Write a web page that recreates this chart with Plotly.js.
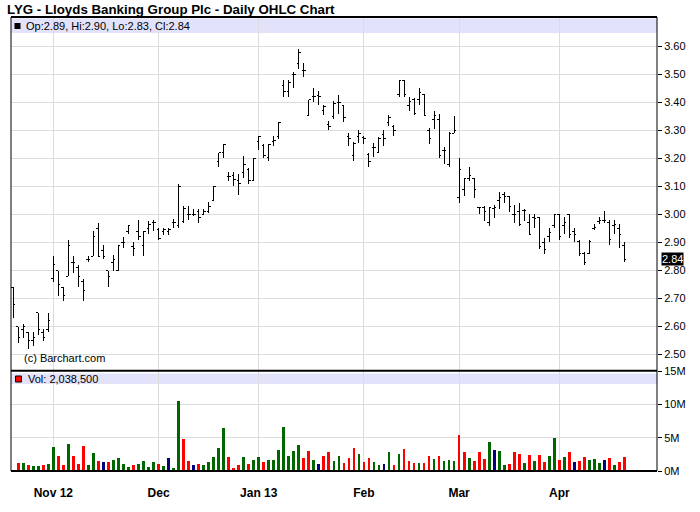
<!DOCTYPE html>
<html><head><meta charset="utf-8">
<script src="https://cdn.plot.ly/plotly-3.0.1.min.js"></script>
<style>html,body{margin:0;padding:0;background:#fff}#chart{width:700px;height:512px}
#chart .ohlc path{shape-rendering:crispEdges !important;}
#chart .bars path{shape-rendering:crispEdges !important;}
</style>
</head><body><div id="chart"></div>
<script>
// ---- data (daily bars, trading-day index order) ----
const opens = [2.74,2.60,2.59,2.58,2.55,2.65,2.58,2.59,2.77,2.80,
 2.74,2.78,2.83,2.81,2.76,2.84,2.85,2.95,2.87,2.80,
 2.83,2.80,2.90,2.94,2.885,2.94,2.89,2.95,2.97,2.945,
 2.94,2.94,2.97,2.96,2.975,3.00,3.00,3.01,3.00,3.01,
 3.05,3.19,3.22,3.135,3.14,3.12,3.15,3.16,3.12,3.26,
 3.245,3.205,3.26,3.28,3.46,3.44,3.50,3.54,3.515,3.355,
 3.42,3.425,3.37,3.32,3.35,3.40,3.39,3.28,3.21,3.28,
 3.275,3.215,3.24,3.22,3.285,3.33,3.315,3.43,3.48,3.39,
 3.41,3.41,3.43,3.30,3.34,3.34,3.23,3.18,3.29,3.06,
 3.09,3.13,3.13,3.025,3.025,2.97,3.02,3.05,3.07,3.065,
 3.00,3.01,3.015,2.97,2.99,2.99,2.90,2.92,2.96,3.00,
 2.96,3.00,2.94,2.905,2.86,2.86,2.95,2.975,2.98,2.97,
 2.96,2.95,2.89];
const highs = [2.74,2.60,2.61,2.58,2.58,2.65,2.59,2.65,2.85,2.80,
 2.74,2.91,2.85,2.82,2.77,2.85,2.94,2.97,2.89,2.80,
 2.855,2.89,2.92,2.96,2.90,2.98,2.94,2.975,2.98,2.95,
 2.95,2.95,2.985,3.11,3.03,3.03,3.02,3.02,3.02,3.045,
 3.10,3.22,3.25,3.15,3.15,3.145,3.21,3.165,3.20,3.28,
 3.25,3.25,3.28,3.33,3.48,3.48,3.51,3.59,3.54,3.41,
 3.45,3.44,3.39,3.335,3.405,3.425,3.39,3.29,3.26,3.30,
 3.28,3.22,3.255,3.275,3.30,3.355,3.32,3.48,3.48,3.42,
 3.415,3.45,3.43,3.31,3.37,3.36,3.24,3.295,3.35,3.20,
 3.13,3.17,3.13,3.027,3.03,3.028,3.035,3.08,3.08,3.065,
 3.035,3.04,3.02,3.00,3.00,2.99,2.915,2.95,3.00,3.00,
 2.99,3.00,2.95,2.91,2.866,2.908,2.965,2.99,3.012,2.98,
 2.98,2.965,2.90];
const lows = [2.63,2.54,2.56,2.52,2.53,2.57,2.55,2.58,2.76,2.71,
 2.69,2.78,2.79,2.74,2.69,2.83,2.85,2.85,2.84,2.74,
 2.80,2.80,2.88,2.93,2.85,2.91,2.85,2.93,2.94,2.91,
 2.925,2.925,2.95,2.95,2.97,2.98,2.995,2.97,3.00,3.005,
 3.05,3.17,3.20,3.12,3.10,3.07,3.13,3.11,3.12,3.23,
 3.20,3.19,3.245,3.27,3.42,3.42,3.45,3.52,3.49,3.35,
 3.40,3.39,3.355,3.30,3.34,3.36,3.33,3.245,3.19,3.255,
 3.25,3.17,3.205,3.22,3.245,3.315,3.28,3.42,3.42,3.37,
 3.355,3.39,3.352,3.25,3.305,3.20,3.18,3.17,3.29,3.04,
 3.065,3.12,3.06,3.00,2.977,2.96,2.988,3.02,3.04,3.01,
 2.97,2.96,2.975,2.925,2.95,2.878,2.858,2.90,2.95,2.91,
 2.93,2.915,2.90,2.85,2.82,2.858,2.944,2.965,2.97,2.89,
 2.93,2.88,2.83];
const closes = [2.68,2.56,2.60,2.55,2.56,2.59,2.56,2.62,2.82,2.75,
 2.71,2.89,2.83,2.78,2.73,2.84,2.92,2.85,2.85,2.78,
 2.84,2.89,2.90,2.96,2.88,2.92,2.94,2.965,2.97,2.915,
 2.945,2.945,2.97,3.10,3.02,3.00,3.00,2.99,3.01,3.03,
 3.10,3.22,3.25,3.135,3.125,3.11,3.18,3.12,3.20,3.28,
 3.21,3.25,3.265,3.33,3.44,3.47,3.50,3.58,3.515,3.41,
 3.42,3.42,3.385,3.315,3.395,3.40,3.345,3.27,3.255,3.29,
 3.27,3.19,3.24,3.27,3.27,3.345,3.30,3.48,3.43,3.405,
 3.36,3.435,3.355,3.27,3.355,3.21,3.23,3.29,3.30,3.16,
 3.13,3.14,3.09,3.025,3.01,3.025,3.025,3.06,3.065,3.03,
 3.00,2.965,3.015,2.93,2.985,2.885,2.875,2.935,3.00,2.92,
 2.97,2.93,2.93,2.86,2.83,2.905,2.955,2.98,2.98,2.91,
 2.965,2.93,2.84];
// volume in millions of shares
const volumes = [0,1.25,1.25,0.95,0.8,0.8,0.95,1.1,3.65,2.3,
 0.95,4.1,2.3,1.1,3.8,0.95,2.7,1.5,1.4,1.4,
 1.65,1.95,1.1,0.65,0.95,1.1,1.55,0.65,1.4,1.1,
 0.8,1.95,0.4,10.55,4.85,1.55,0.95,1.1,0.95,1.4,
 2.15,3.5,6.5,2.15,0.5,0.95,2.15,1.1,1.65,2.15,
 1.4,1.7,1.7,3.2,6.65,2.3,3.05,3.9,2.0,3.05,
 1.7,1.1,2.3,2.85,1.5,2.3,1.25,2.0,3.5,2.5,
 1.4,2.0,1.4,0.95,1.1,2.85,0.95,2.6,3.35,1.5,
 1.25,1.25,1.25,2.3,1.8,2.3,1.5,1.7,1.5,5.4,
 2.85,1.95,1.5,2.85,1.8,4.35,3.15,3.0,0.95,1.1,
 2.85,2.6,1.25,2.45,1.5,2.45,1.4,2.3,5.0,1.7,
 2.15,2.85,1.35,1.5,2.15,1.7,1.8,1.25,1.7,1.95,
 0.95,1.4,2.0385];
const lastVolume = 2038500;
const monthStartIdx = [8,29,49,70,89,109];
const monthLabels = ['Nov 12','Dec','Jan 13','Feb','Mar','Apr'];
const priceTicks = [2.5,2.6,2.7,2.8,2.9,3.0,3.1,3.2,3.3,3.4,3.5,3.6];
const volTicks = [0,5,10,15];
const volTickLabels = ['0M','5M','10M','15M'];

// ---- derived ----
const idx = opens.map((_, i) => i);
const n = closes.length;
const UP='#006600', DOWN='#ff0000', FLAT='#000080';
const volColors = closes.map((c,i)=> i===0 ? DOWN : (c>closes[i-1] ? UP : (c<closes[i-1] ? DOWN : FLAT)));
const FONT = 'Liberation Sans, Arial, Helvetica, sans-serif';

const W=700, H=512, ML=11, MR=43, MT=17, MB=41;
const plotW = W-ML-MR, plotH = H-MT-MB;
const px2x = p => (p-ML)/plotW;
const px2y = p => (H-MB-p)/plotH;

const priceTrace = {
  type:'ohlc', x: idx, open: opens, high: highs, low: lows, close: closes,
  xaxis:'x', yaxis:'y',
  increasing:{line:{color:'#000', width:1}},
  decreasing:{line:{color:'#000', width:1}},
  tickwidth:0.4, hoverinfo:'skip', showlegend:false
};
const volTrace = {
  type:'bar', x: idx, y: volumes, xaxis:'x', yaxis:'y2',
  marker:{color: volColors, line:{width:0}}, width:0.55,
  hoverinfo:'skip', showlegend:false
};

const f2 = v => v.toFixed(2);
const legendText = 'Op:'+f2(opens[n-1])+', Hi:'+f2(highs[n-1])+', Lo:'+f2(lows[n-1])+', Cl:'+f2(closes[n-1]);
const volText = 'Vol: '+lastVolume.toLocaleString('en-US');

const layout = {
  width:W, height:H,
  margin:{l:ML, r:MR, t:MT, b:MB, pad:0},
  paper_bgcolor:'#ffffff', plot_bgcolor:'rgba(0,0,0,0)',
  font:{family:FONT, size:11, color:'#000'},
  showlegend:false,
  title:{text:'<b>LYG - Lloyds Banking Group Plc - Daily OHLC Chart</b>',
    font:{family:FONT, size:13.3, color:'#000'},
    x:7/W, xanchor:'left', xref:'container', y:1-9/H, yanchor:'middle', yref:'container'},
  xaxis:{range:[-0.45,128.5], tickmode:'array', tickvals:monthStartIdx, ticktext:monthLabels,
    showgrid:true, gridcolor:'#dcdcdc', gridwidth:1, zeroline:false, showline:false,
    ticks:'outside', ticklen:11, tickcolor:'rgba(0,0,0,0)',
    tickfont:{family:FONT, size:12, color:'#000', weight:'bold'},
    anchor:'y2', rangeslider:{visible:false}, fixedrange:true},
  yaxis:{domain:[px2y(370.5),1], range:[2.443,3.705], side:'right',
    tickmode:'array', tickvals:priceTicks, tickformat:'.2f',
    showgrid:true, gridcolor:'#dcdcdc', zeroline:false, showline:false,
    ticks:'outside', ticklen:4, tickcolor:'#000', tickfont:{family:FONT, size:11, color:'#000'},
    anchor:'x', fixedrange:true},
  yaxis2:{domain:[0,px2y(371)], range:[0,15], side:'right',
    tickmode:'array', tickvals:volTicks, ticktext:volTickLabels,
    showgrid:true, gridcolor:'#dcdcdc', zeroline:false, showline:false,
    ticks:'outside', ticklen:4, tickcolor:'#000', tickfont:{family:FONT, size:11, color:'#000'},
    anchor:'x', fixedrange:true},
  shapes:[
    {type:'rect', xref:'paper', yref:'paper', x0:0, x1:1, y0:px2y(33), y1:px2y(18.5), fillcolor:'#e2e2fa', line:{width:0}, layer:'below'},
    {type:'rect', xref:'paper', yref:'paper', x0:0, x1:1, y0:px2y(384), y1:px2y(373.5), fillcolor:'#e2e2fa', line:{width:0}, layer:'below'},
    {type:'rect', xref:'paper', yref:'paper', x0:px2x(14.5), x1:px2x(20.5), y0:px2y(29), y1:px2y(23), fillcolor:'#000', line:{width:0}},
    {type:'rect', xref:'paper', yref:'paper', x0:px2x(15.5), x1:px2x(21.5), y0:px2y(382), y1:px2y(376), fillcolor:'#ff0000', line:{color:'#000', width:1}},
    {type:'line', xref:'paper', yref:'paper', x0:0, x1:1, y0:1, y1:1, line:{color:'#000', width:2}},
    {type:'line', xref:'paper', yref:'paper', x0:0, x1:1, y0:px2y(370.7), y1:px2y(370.7), line:{color:'#000', width:2}},
    {type:'line', xref:'paper', yref:'paper', x0:0, x1:1, y0:0, y1:0, line:{color:'#000', width:2}},
    {type:'line', xref:'paper', yref:'paper', x0:0, x1:0, y0:0, y1:1, line:{color:'#000', width:1}},
    {type:'line', xref:'paper', yref:'paper', x0:1, x1:1, y0:0, y1:1, line:{color:'#000', width:1}}
  ],
  annotations:[
    {xref:'paper', yref:'paper', x:px2x(24), y:px2y(26), xanchor:'left', yanchor:'middle', showarrow:false,
      text:legendText, font:{family:FONT, size:11, color:'#000'}},
    {xref:'paper', yref:'paper', x:px2x(26), y:px2y(379), xanchor:'left', yanchor:'middle', showarrow:false,
      text:volText, font:{family:FONT, size:11, color:'#000'}},
    {xref:'paper', yref:'paper', x:px2x(22), y:px2y(357.5), xanchor:'left', yanchor:'middle', showarrow:false,
      text:'(c) Barchart.com', font:{family:FONT, size:11, color:'#000'}},
    {xref:'paper', yref:'y', x:1, y:closes[n-1], xanchor:'left', yanchor:'middle', xshift:4, showarrow:false,
      text:f2(closes[n-1]), bgcolor:'#000', borderpad:0, font:{family:FONT, size:11, color:'#fff'}}
  ]
};

Plotly.newPlot('chart', [volTrace, priceTrace], layout, {displayModeBar:false, staticPlot:true});
</script>
</body></html>
